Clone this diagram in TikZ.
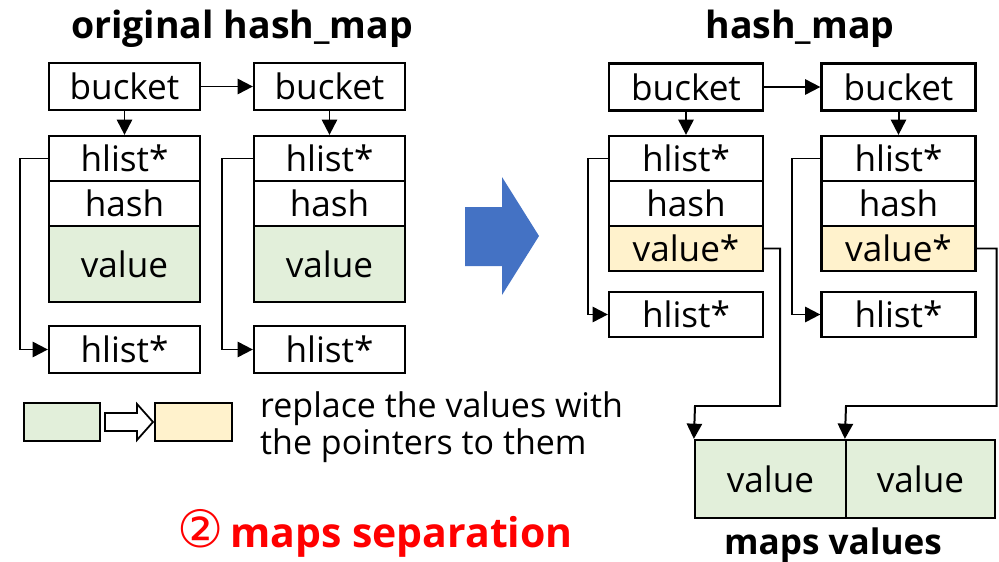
\documentclass[tikz,border=0pt]{standalone}
\usepackage{fontspec}
\setmainfont{Open Sans}
\newfontfamily\circfont{DejaVu Sans}
\usepackage{tikz}
\usetikzlibrary{arrows.meta}
\definecolor{valgreen}{HTML}{E2EFDA}
\definecolor{ptryellow}{HTML}{FFF2CC}
\definecolor{bigblue}{HTML}{4472C4}

\begin{document}
\begin{tikzpicture}[x=0.03cm,y=-0.03cm,
  cell/.style={draw,line width=1.9pt,inner sep=0pt,font=\fontsize{30}{36}\selectfont},
  oldcell/.style={cell,minimum width=4.53cm,minimum height=1.35cm},
  newcell/.style={cell,minimum width=4.62cm,minimum height=1.35cm},
  ptr/.style={line width=1.7pt,-{Triangle[length=13pt,width=13pt]}},
  heading/.style={font=\bfseries\fontsize{32}{38}\selectfont}]
\useasboundingbox (0,0) rectangle (999,562);

% original hash_map
\node[heading] (tL) at (242,29) {original hash\_map};
\node[oldcell,minimum height=1.41cm] (bA) at (124.5,86.5) {bucket};
\node[oldcell] (hA) at (124.5,158.5) {hlist*};
\node[oldcell] (sA) at (124.5,203.5) {hash};
\node[oldcell,fill=valgreen,minimum height=2.28cm] (vA) at (124.5,264) {value};
\node[oldcell,minimum height=1.41cm] (nA) at (124.5,349.5) {hlist*};
\node[oldcell,minimum height=1.41cm] (bB) at (329.5,86.5) {bucket};
\node[oldcell] (hB) at (329.5,158.5) {hlist*};
\node[oldcell] (sB) at (329.5,203.5) {hash};
\node[oldcell,fill=valgreen,minimum height=2.28cm] (vB) at (329.5,264) {value};
\node[oldcell,minimum height=1.41cm] (nB) at (329.5,349.5) {hlist*};
\draw[ptr] (bA) -- (bB);
\draw[ptr] (bA) -- (hA);
\draw[ptr] (bB) -- (hB);
\draw[ptr] (hA.west) -- ++(-28,0) |- (nA.west);
\draw[ptr] (hB.west) -- ++(-31,0) |- (nB.west);

% legend
\node[cell,fill=valgreen,minimum width=2.28cm,minimum height=1.14cm] (lgA) at (62,422) {};
\node[cell,fill=ptryellow,minimum width=2.31cm,minimum height=1.14cm] (lgB) at (193.5,422) {};
\draw[line width=1.5pt,fill=white] (105,413) -- (137,413) -- (137,404) -- (153,422) -- (137,440) -- (137,431) -- (105,431) -- cycle;
\node[anchor=west,align=left,inner sep=0pt,font=\fontsize{29}{31.5}\selectfont] (note) at (260,427) {replace the values with\\the pointers to them};
\node[red,font=\bfseries\fontsize{35}{40}\selectfont] (sep) at (375,533) {{\circfont\mdseries\fontsize{44}{44}\selectfont ②}\,maps separation};

\fill[bigblue] (465,207) -- (502,207) -- (502,177) -- (539,236) -- (502,295) -- (502,266) -- (465,266) -- cycle;

% hash_map
\node[heading] (tR) at (800,29) {hash\_map};
\node[newcell,minimum height=1.41cm] (bC) at (686,87) {bucket};
\node[newcell] (hC) at (686,158.5) {hlist*};
\node[newcell] (sC) at (686,203.5) {hash};
\node[newcell,fill=ptryellow] (vC) at (686,248.5) {value*};
\node[newcell] (nC) at (686,314.5) {hlist*};
\node[newcell,minimum height=1.41cm] (bD) at (898.5,87) {bucket};
\node[newcell] (hD) at (898.5,158.5) {hlist*};
\node[newcell] (sD) at (898.5,203.5) {hash};
\node[newcell,fill=ptryellow] (vD) at (898.5,248.5) {value*};
\node[newcell] (nD) at (898.5,314.5) {hlist*};
\draw[ptr] (bC) -- (bD);
\draw[ptr] (bC) -- (hC);
\draw[ptr] (bD) -- (hD);
\draw[ptr] (hC.west) -- ++(-20,0) |- (nC.west);
\draw[ptr] (hD.west) -- ++(-28,0) |- (nD.west);

% maps values
\node[cell,fill=valgreen,minimum width=4.53cm,minimum height=2.34cm] (mvA) at (770.5,479) {value};
\node[cell,fill=valgreen,minimum width=4.47cm,minimum height=2.34cm] (mvB) at (920.5,479) {value};
\node[font=\bfseries\fontsize{30}{36}\selectfont] (mvT) at (833,545) {maps values};
\coordinate (kC) at (695,406);
\coordinate (kD) at (846,406);
\draw[ptr] (vC.east) -- ++(16,0) |- (kC) -- (mvA.north west);
\draw[ptr] (vD.east) -- ++(20,0) |- (kD) -- (mvB.north west);
\end{tikzpicture}
\end{document}
